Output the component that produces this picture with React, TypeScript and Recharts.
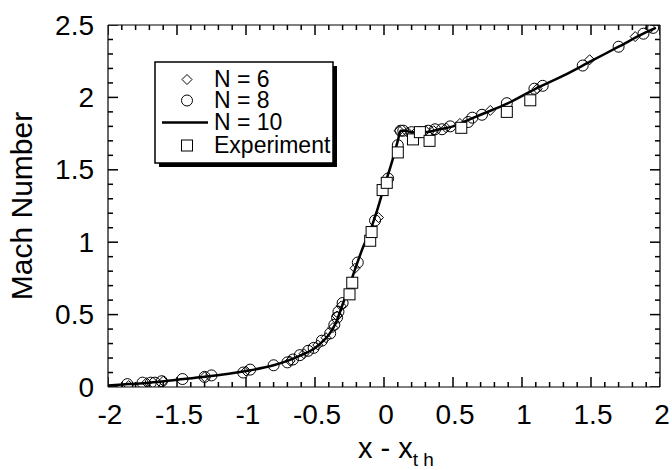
import React from 'react';
import { ComposedChart, Line, Scatter, XAxis, YAxis, Legend } from 'recharts';

// N = 10 (solid line): [x - x_th, Mach]
const n10Points: number[][] = [
  [-2.0, 0.01], [-1.85, 0.02], [-1.7, 0.03], [-1.5, 0.05], [-1.3, 0.07], [-1.0, 0.11],
  [-0.8, 0.15], [-0.7, 0.18], [-0.6, 0.22], [-0.5, 0.27], [-0.45, 0.31], [-0.4, 0.36],
  [-0.35, 0.44], [-0.3, 0.57], [-0.25, 0.7], [-0.2, 0.84], [-0.15, 0.97], [-0.1, 1.08],
  [-0.05, 1.22], [0.0, 1.38], [0.05, 1.53], [0.1, 1.7], [0.12, 1.77], [0.15, 1.77],
  [0.2, 1.76], [0.3, 1.76], [0.4, 1.78], [0.5, 1.8], [0.6, 1.84], [0.7, 1.88],
  [0.9, 1.96], [1.1, 2.06], [1.3, 2.15], [1.5, 2.25], [1.7, 2.35], [1.9, 2.45], [1.97, 2.48],
];

// N = 6 (diamonds)
const n6Points: number[][] = [
  [-1.85, 0.01], [-1.72, 0.03], [-1.6, 0.04], [-1.3, 0.07], [-1.0, 0.11], [-0.68, 0.18],
  [-0.58, 0.23], [-0.48, 0.29], [-0.42, 0.34], [-0.37, 0.41], [-0.34, 0.49], [-0.31, 0.56],
  [-0.21, 0.82], [-0.04, 1.17], [0.11, 1.77], [0.17, 1.76], [0.23, 1.76], [0.3, 1.77],
  [0.36, 1.77], [0.45, 1.79], [0.55, 1.82], [0.77, 1.91], [1.11, 2.06], [1.49, 2.26],
  [1.82, 2.42], [1.93, 2.48],
];

// N = 8 (circles)
const n8Points: number[][] = [
  [-1.86, 0.02], [-1.75, 0.03], [-1.69, 0.03], [-1.66, 0.03], [-1.61, 0.04], [-1.46, 0.055],
  [-1.3, 0.07], [-1.25, 0.08], [-1.02, 0.1], [-0.97, 0.12], [-0.8, 0.15], [-0.7, 0.17],
  [-0.66, 0.19], [-0.61, 0.22], [-0.55, 0.25], [-0.51, 0.27], [-0.45, 0.32], [-0.39, 0.37],
  [-0.36, 0.43], [-0.34, 0.48], [-0.33, 0.52], [-0.3, 0.58], [-0.19, 0.86], [-0.065, 1.15],
  [0.03, 1.44], [0.1, 1.67], [0.12, 1.77], [0.14, 1.77], [0.2, 1.76], [0.26, 1.76],
  [0.32, 1.77], [0.37, 1.78], [0.42, 1.78], [0.48, 1.8], [0.61, 1.83], [0.64, 1.86],
  [0.71, 1.88], [0.89, 1.96], [1.09, 2.06], [1.15, 2.08], [1.44, 2.22], [1.7, 2.35],
  [1.88, 2.44], [1.95, 2.48],
];

// Experiment (squares)
const expPoints: number[][] = [
  [-0.25, 0.64], [-0.23, 0.72], [-0.1, 1.01], [-0.09, 1.07], [-0.01, 1.36], [0.02, 1.41],
  [0.1, 1.62], [0.21, 1.71], [0.26, 1.76], [0.33, 1.7], [0.56, 1.79], [0.89, 1.9], [1.06, 1.98],
];

const xMajorTicks = [-2, -1.5, -1, -0.5, 0, 0.5, 1, 1.5, 2];
const yMajorTicks = [0, 0.5, 1, 1.5, 2, 2.5];
const legendLabels = ['N = 6', 'N = 8', 'N = 10', 'Experiment'];

const xMin = xMajorTicks[0];
const xMax = xMajorTicks[xMajorTicks.length - 1];
const yMin = yMajorTicks[0];
const yMax = yMajorTicks[yMajorTicks.length - 1];

const minorStep = 0.1;
const buildTicks = (lo: number, hi: number) => {
  const out: number[] = [];
  const n = Math.round((hi - lo) / minorStep);
  for (let i = 0; i <= n; i++) out.push(Math.round((lo + i * minorStep) * 10) / 10);
  return out;
};
const xMinorTicks = buildTicks(xMin, xMax);
const yMinorTicks = buildTicks(yMin, yMax);
const isMajor = (v: number, majors: number[]) => majors.some((m) => Math.abs(m - v) < 1e-6);

const toRows = (pts: number[][]) => pts.map(([x, m]) => ({ x, m }));
const n10Data = toRows(n10Points);
const n6Data = toRows(n6Points);
const n8Data = toRows(n8Points);
const expData = toRows(expPoints);

// Inward tick marks on the four frame sides, placed through the chart scales
const tickBottom = xMinorTicks.map((x) => ({ x, m: yMin, major: isMajor(x, xMajorTicks) }));
const tickTop = xMinorTicks.map((x) => ({ x, m: yMax, major: isMajor(x, xMajorTicks) }));
const tickLeft = yMinorTicks.map((m) => ({ x: xMin, m, major: isMajor(m, yMajorTicks) }));
const tickRight = yMinorTicks.map((m) => ({ x: xMax, m, major: isMajor(m, yMajorTicks) }));

const FONT = '"Liberation Sans", Arial, Helvetica, sans-serif';
const fmt = (v: number) => String(Math.round(v * 10) / 10);

const TW = 1.5;
const isMaj = (p: any) => Boolean((p.payload && p.payload.major) || p.major);
const len = (p: any) => (isMaj(p) ? 10 : 5);
const TickUp = (p: any) => <rect x={p.cx - TW / 2} y={p.cy - len(p)} width={TW} height={len(p)} fill="#000" />;
const TickDown = (p: any) => <rect x={p.cx - TW / 2} y={p.cy} width={TW} height={len(p)} fill="#000" />;
const TickRightward = (p: any) => <rect x={p.cx} y={p.cy - TW / 2} width={len(p)} height={TW} fill="#000" />;
const TickLeftward = (p: any) => <rect x={p.cx - len(p)} y={p.cy - TW / 2} width={len(p)} height={TW} fill="#000" />;

const BottomLabel = (p: any) => (
  <text x={p.x + 2} y={p.y + 37} textAnchor="middle" fontSize={28} fontFamily={FONT} fill="#000">
    {fmt(p.payload.value)}
  </text>
);
const LeftLabel = (p: any) => (
  <text x={p.x - 14} y={p.y + 9.5} textAnchor="end" fontSize={28} fontFamily={FONT} fill="#000">
    {fmt(p.payload.value)}
  </text>
);

const Diamond = (p: any) => {
  const { cx, cy } = p;
  const r = 5;
  return (
    <polygon
      points={`${cx},${cy - r} ${cx + r},${cy} ${cx},${cy + r} ${cx - r},${cy}`}
      fill="none"
      stroke="#000"
      strokeWidth={1}
    />
  );
};
const Circle = (p: any) => <circle cx={p.cx} cy={p.cy} r={5.5} fill="none" stroke="#000" strokeWidth={1} />;
const Square = (p: any) => (
  <rect x={p.cx - 5.5} y={p.cy - 5.5} width={11} height={11} fill="#fff" stroke="#000" strokeWidth={1} />
);

const YLabel = (p: any) => {
  const vb = p.viewBox || { x: 107, y: 25, width: 1, height: 362 };
  const x = vb.x + vb.width - 76;
  const y = vb.y + vb.height / 2;
  return (
    <text x={x} y={y} transform={`rotate(-90, ${x}, ${y})`} textAnchor="middle" fontSize={30} fontFamily={FONT} fill="#000">
      Mach Number
    </text>
  );
};
const XLabel = (p: any) => {
  const vb = p.viewBox || { x: 108, y: 387, width: 552 };
  const x = vb.x + vb.width / 2 - 26;
  return (
    <text x={x} y={vb.y + 71} fontSize={29} fontFamily={FONT} fill="#000">
      x - x
      <tspan fontSize={19} dy={8}>
        t h
      </tspan>
    </text>
  );
};

const LegendBox = () => {
  const rows = [17.5, 38.5, 60.5, 83.5];
  const sx = 33;
  return (
    <svg width={186} height={110} style={{ display: 'block' }}>
      <rect x={5} y={5} width={178} height={101} fill="#000" />
      <rect x={1} y={1} width={178} height={101} fill="#fff" stroke="#000" strokeWidth={1.5} />
      <Diamond cx={sx} cy={rows[0] + 1} />
      <Circle cx={sx} cy={rows[1] + 1} />
      <line x1={8} y1={rows[2] + 1} x2={54} y2={rows[2] + 1} stroke="#000" strokeWidth={2.5} />
      <Square cx={sx} cy={rows[3] + 1} />
      {legendLabels.map((t, i) => (
        <text key={t} x={60} y={rows[i] + 8} fontSize={23} fontFamily={FONT} fill="#000">
          {t}
        </text>
      ))}
    </svg>
  );
};

const black = { stroke: '#000', strokeWidth: 1.2 };

export default function App() {
  return (
    <div style={{ position: 'absolute', left: 0, top: 0, width: 672, height: 470, background: '#fff' }}>
      <ComposedChart width={672} height={470} margin={{ top: 24, right: 11, bottom: 82, left: 107 }}>
        <XAxis
          xAxisId="b"
          dataKey="x"
          type="number"
          domain={[xMin, xMax]}
          allowDataOverflow
          ticks={xMajorTicks}
          interval={0}
          height={1}
          tickSize={0}
          tickMargin={0}
          tickLine={false}
          tick={BottomLabel}
          axisLine={black}
          label={<XLabel />}
        />
        <XAxis
          xAxisId="t"
          orientation="top"
          dataKey="x"
          type="number"
          domain={[xMin, xMax]}
          allowDataOverflow
          height={1}
          tickLine={false}
          tick={false}
          axisLine={black}
        />
        <YAxis
          yAxisId="l"
          type="number"
          domain={[yMin, yMax]}
          allowDataOverflow
          ticks={yMajorTicks}
          interval={0}
          width={1}
          tickSize={0}
          tickMargin={0}
          tickLine={false}
          tick={LeftLabel}
          axisLine={black}
          label={<YLabel />}
        />
        <YAxis
          yAxisId="r"
          orientation="right"
          type="number"
          domain={[yMin, yMax]}
          allowDataOverflow
          width={1}
          tickLine={false}
          tick={false}
          axisLine={black}
        />
        <Legend
          layout="horizontal"
          verticalAlign="middle"
          align="center"
          content={<LegendBox />}
          wrapperStyle={{ position: 'absolute', left: 154, top: 61, width: 186, height: 110 }}
        />
        <Scatter xAxisId="b" yAxisId="l" data={tickBottom} dataKey="m" shape={TickUp} isAnimationActive={false} legendType="none" />
        <Scatter xAxisId="b" yAxisId="l" data={tickTop} dataKey="m" shape={TickDown} isAnimationActive={false} legendType="none" />
        <Scatter xAxisId="b" yAxisId="l" data={tickLeft} dataKey="m" shape={TickRightward} isAnimationActive={false} legendType="none" />
        <Scatter xAxisId="b" yAxisId="l" data={tickRight} dataKey="m" shape={TickLeftward} isAnimationActive={false} legendType="none" />
        <Line
          xAxisId="b"
          yAxisId="l"
          data={n10Data}
          dataKey="m"
          type="monotone"
          stroke="#000"
          strokeWidth={2.5}
          dot={false}
          isAnimationActive={false}
        />
        <Scatter xAxisId="b" yAxisId="l" data={n6Data} dataKey="m" shape={Diamond} isAnimationActive={false} />
        <Scatter xAxisId="b" yAxisId="l" data={n8Data} dataKey="m" shape={Circle} isAnimationActive={false} />
        <Scatter xAxisId="b" yAxisId="l" data={expData} dataKey="m" shape={Square} isAnimationActive={false} />
      </ComposedChart>
    </div>
  );
}
